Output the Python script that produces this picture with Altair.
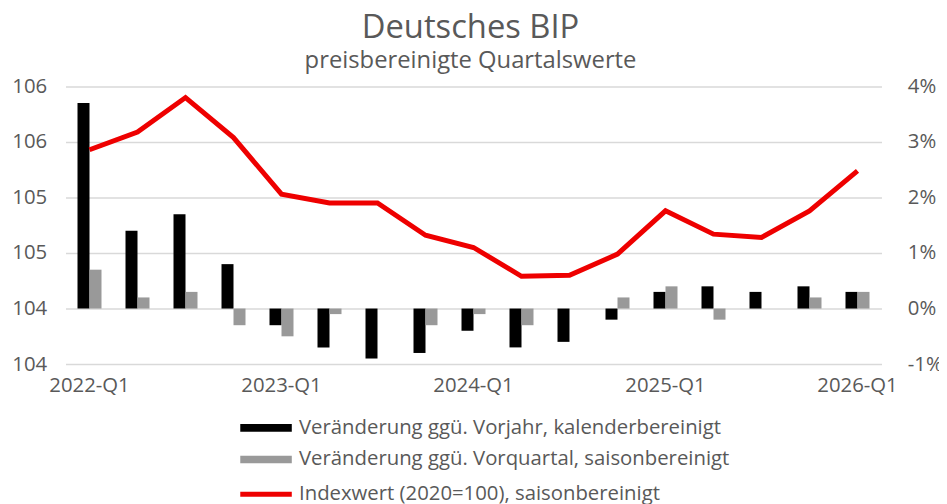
import altair as alt
import pandas as pd

quarters = ["2022-Q1", "2022-Q2", "2022-Q3", "2022-Q4",
            "2023-Q1", "2023-Q2", "2023-Q3", "2023-Q4",
            "2024-Q1", "2024-Q2", "2024-Q3", "2024-Q4",
            "2025-Q1", "2025-Q2", "2025-Q3", "2025-Q4",
            "2026-Q1"]
yoy = [3.7, 1.4, 1.7, 0.8, -0.3, -0.7, -0.9, -0.8, -0.4, -0.7, -0.6, -0.2, 0.3, 0.4, 0.3, 0.4, 0.3]
qoq = [0.7, 0.2, 0.3, -0.3, -0.5, -0.1, 0.0, -0.3, -0.1, -0.3, 0.0, 0.2, 0.4, -0.2, 0.0, 0.2, 0.3]
index_vals = [105.43, 105.59, 105.90, 105.54, 105.03, 104.95, 104.95, 104.66, 104.55,
              104.29, 104.30, 104.49, 104.88, 104.67, 104.64, 104.88, 105.24]
x_labels = ["2022-Q1", "2023-Q1", "2024-Q1", "2025-Q1", "2026-Q1"]
left_ticks = [103.5, 104, 104.5, 105, 105.5, 106]
right_ticks = [-1, 0, 1, 2, 3, 4]

s_yoy = "Veränderung ggü. Vorjahr, kalenderbereinigt"
s_qoq = "Veränderung ggü. Vorquartal, saisonbereinigt"
s_idx = "Indexwert (2020=100), saisonbereinigt"

bars_df = pd.DataFrame({
    "quarter": quarters * 2,
    "series": [s_yoy] * len(quarters) + [s_qoq] * len(quarters),
    "value": yoy + qoq,
})
line_df = pd.DataFrame({"quarter": quarters, "series": s_idx, "value": index_vals})

FONT = "Open Sans"
TXT = "#595959"
FS = 20.5
LFS = 20.5

x_enc = alt.X(
    "quarter:N", sort=quarters, title=None,
    scale=alt.Scale(paddingInner=0.5, paddingOuter=0.25),
    axis=alt.Axis(values=x_labels, labelAngle=0, domain=False, ticks=False,
                  labelPadding=12, labelFontSize=FS, labelColor=TXT, labelFont=FONT),
)

bars = alt.Chart(bars_df).mark_bar().encode(
    x=x_enc,
    xOffset=alt.XOffset("series:N", sort=[s_yoy, s_qoq], scale=alt.Scale(paddingInner=0, paddingOuter=0)),
    y=alt.Y("value:Q", title=None, scale=alt.Scale(domain=[-1, 4], nice=False, zero=False),
            axis=alt.Axis(orient="right", values=right_ticks, labelExpr="datum.value + '%'",
                          grid=True, gridColor="#d9d9d9", gridWidth=1.5, domain=False, ticks=False,
                          labelPadding=26, labelFontSize=FS, labelColor=TXT, labelFont=FONT)),
    color=alt.Color("series:N", sort=[s_yoy, s_qoq],
                    scale=alt.Scale(domain=[s_yoy, s_qoq], range=["#000000", "#999999"]),
                    legend=alt.Legend(orient="none", legendX=192, legendY=334, title=None,
                                      symbolType="M-5,-0.75H5V0.75H-5Z", symbolSize=108,
                                      symbolStrokeWidth=0, labelOffset=23, rowPadding=11,
                                      labelFontSize=LFS, labelColor=TXT, labelFont=FONT,
                                      labelLimit=600)),
)

line = alt.Chart(line_df).mark_line(strokeWidth=5).encode(
    x=x_enc,
    y=alt.Y("value:Q", title=None, scale=alt.Scale(domain=[103.5, 106], nice=False, zero=False),
            axis=alt.Axis(orient="left", values=left_ticks, format=".0f", grid=False,
                          domain=False, ticks=False, labelPadding=19,
                          labelFontSize=FS, labelColor=TXT, labelFont=FONT)),
    stroke=alt.Stroke("series:N",
                      scale=alt.Scale(domain=[s_idx], range=["#ee0000"]),
                      legend=alt.Legend(orient="none", legendX=192, legendY=401, title=None,
                                        symbolType="M-5,0H5", symbolSize=108,
                                        symbolStrokeWidth=5, labelOffset=23,
                                        labelFontSize=LFS, labelColor=TXT, labelFont=FONT,
                                        labelLimit=600)),
)

chart = alt.layer(bars, line).resolve_scale(y="independent").properties(
    width=823, height=280,
    title=alt.TitleParams(text="Deutsches BIP", subtitle="preisbereinigte Quartalswerte",
                          fontSize=33, subtitleFontSize=24, font=FONT, subtitleFont=FONT,
                          color=TXT, subtitleColor=TXT, fontWeight="normal",
                          subtitleFontWeight="normal", anchor="middle", dx=-3,
                          offset=4, subtitlePadding=4),
    autosize=alt.AutoSizeParams(type="none"),
    padding={"left": 58, "top": 77, "right": 58, "bottom": 139},
).configure_view(stroke=None)

chart.save("out.html", embed_options={"renderer": "svg", "actions": False})
